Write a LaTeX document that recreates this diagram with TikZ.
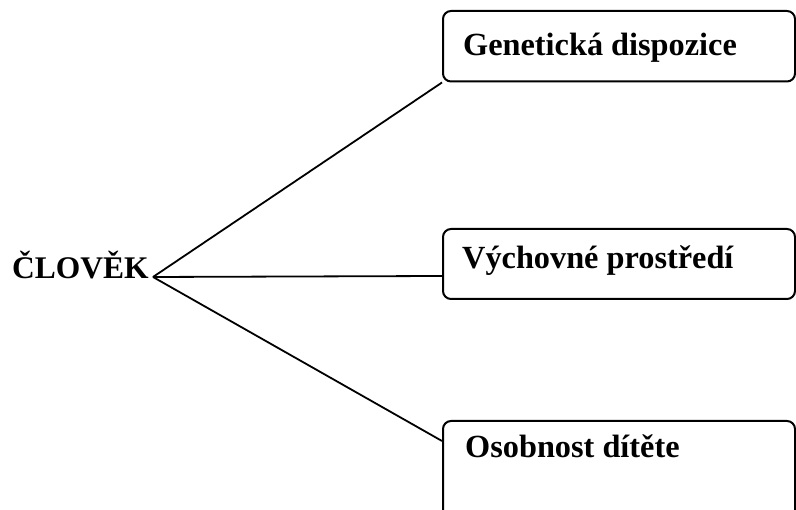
\documentclass[tikz,border=0pt]{standalone}
\usepackage{fontspec}
\setmainfont{Liberation Serif}
\tikzset{
  labelbox/.style={draw, line width=2pt, rounded corners=8pt, inner sep=0pt, anchor=south west},
  labeltext/.style={inner sep=0pt, anchor=base west, font=\fontsize{32.3}{37}\selectfont\bfseries},
  conn/.style={line width=1.8pt}
}
\begin{document}
\begin{tikzpicture}[x=1pt,y=1pt]
\useasboundingbox (0,0) rectangle (796,510);
\begin{scope}
\clip (0,0) rectangle (796,510);
% boxes
\node[labelbox, minimum width=352pt, minimum height=70.5pt] (gen) at (442,427.5) {};
\node[labelbox, minimum width=352pt, minimum height=70pt] (vych) at (442,210) {};
\node[labelbox, minimum width=352pt, minimum height=120pt] (osob) at (442,-32) {};
% texts
\node[labeltext, font=\fontsize{31.5}{36}\selectfont\bfseries] (clovek) at (12,231) {ČLOVĚK};
\node[labeltext] (tgen) at (463,454) {Genetická dispozice};
\node[labeltext] (tvych) at (462,241) {Výchovné prostředí};
\node[labeltext] (tosob) at (465,52) {Osobnost dítěte};
% connectors
\coordinate (apex) at (153,233);
\draw[conn] (apex) -- (gen.south west);
\draw[conn] (apex) -- ([yshift=24pt]vych.south west);
\draw[conn] (apex) -- ([yshift=-21pt]osob.north west);
\end{scope}
\end{tikzpicture}
\end{document}
